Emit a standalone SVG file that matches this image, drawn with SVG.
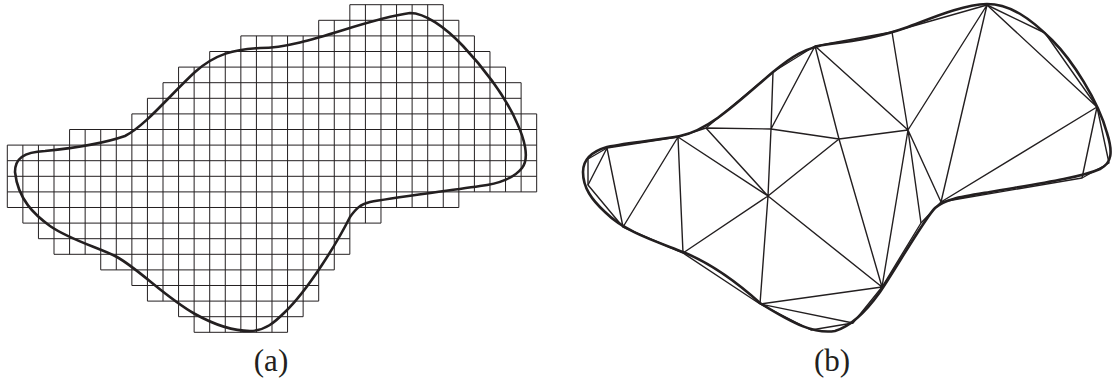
<svg xmlns="http://www.w3.org/2000/svg" width="1115" height="383" viewBox="0 0 1115 383">
  <style>
    .grid { fill: none; stroke: #231f20; stroke-width: 1; }
    .outline { fill: none; stroke: #231f20; stroke-width: 2.6; stroke-linejoin: round; }
    .edge { fill: none; stroke: #231f20; stroke-width: 1.4; stroke-linejoin: round; }
    .label { font-family: "Liberation Serif", serif; font-size: 31px; fill: #231f20; text-anchor: middle; }
  </style>
  <rect width="1115" height="383" fill="#ffffff"/>

  <g id="panel-a">
    <g id="grid-a" transform="translate(7.3,4.7) scale(15.57,15.6)">
      <path class="grid" vector-effect="non-scaling-stroke" d="M22 0H28 M20 1H29 M15 2H30 M13 3H31 M11 4H32 M10 5H33 M9 6H33 M8 7H34 M4 8H34 M0 9H34 M0 10H34 M0 11H34 M0 12H34 M0 13H29 M1 14H24 M2 15H22 M3 16H22 M6 17H21 M8 18H20 M9 19H20 M11 20H19 M12 21H18"/>
      <path class="grid" vector-effect="non-scaling-stroke" d="M0 9V13 M1 9V14 M2 9V15 M3 9V16 M4 8V16 M5 8V16 M6 8V17 M7 8V17 M8 7V18 M9 6V19 M10 5V19 M11 4V20 M12 4V21 M13 3V21 M14 3V21 M15 2V21 M16 2V21 M17 2V21 M18 2V21 M19 2V20 M20 1V19 M21 1V17 M22 0V16 M23 0V14 M24 0V14 M25 0V13 M26 0V13 M27 0V13 M28 0V13 M29 1V13 M30 2V12 M31 3V12 M32 4V12 M33 5V12 M34 7V12"/>
    </g>
    <g id="outline-a">
      <path class="outline" d="M15 172 C15 159 23 152 45 151 C75 148 105 143 125 136 C145 126 170 95 195 72 C215 54 235 49 260 48 C305 48 360 20 410 13 C425 13 445 27 463 46 C481 65 505 95 517 123 C524 138 530 158 522 168 C515 177 500 184 480 186 C440 192 390 198 370 202 C360 204 355 210 350 217 C337 243 308 290 285 312 C275 322 265 331 250 331 C230 331 213 324 195 314 C165 297 140 270 117 257 C100 248 70 240 50 226 C35 215 18 200 15 172 Z"/>
    </g>
    <text id="label-a" class="label" x="271" y="371">(a)</text>
  </g>

  <g id="panel-b">
    <g id="connectors">
      <path class="edge" d="M588 159 L607 148 L678 137 L706 128 L773 72 L815 46 L892 32 L987 5 L1045 33 L1097 107 L1109 163 L1082 178 L941 202 L921 223 L882 287 L853 323 L811 330 L760 304 L683 253 L623 227 L588 185 Z"/>
      <path class="edge" d="M607 148 L588 185 M607 148 L623 227 M678 137 L623 227 M678 137 L683 253 M678 137 L768 196 M706 128 L768 196 M706 128 L771 129 M773 72 L771 129 M815 46 L771 129 M771 129 L768 196 M771 129 L839 139 M815 46 L839 139 M815 46 L908 130 M892 32 L908 130 M987 5 L908 130 M839 139 L908 130 M768 196 L839 139 M768 196 L683 253 M768 196 L760 304 M768 196 L882 287 M839 139 L882 287 M908 130 L882 287 M908 130 L921 223 M908 130 L941 202 M987 5 L941 202 M987 5 L1097 107 M1097 107 L941 202 M1097 107 L1082 178 M760 304 L882 287 M760 304 L853 323"/>
    </g>
    <g id="outline-b">
      <path class="outline" d="M583 172 C583 160 590 152 607 147 C630 142 660 140 680 136 C710 130 740 100 773 72 C790 58 805 47 830 44 C855 41 880 37 905 28 C930 19 960 5 987 4 C1010 4 1030 18 1052 40 C1072 60 1098 100 1107 133 C1113 152 1112 163 1100 169 C1080 178 1030 185 990 192 C960 197 945 199 935 208 C925 218 895 270 880 292 C870 306 855 325 835 331 C815 334 795 325 760 303 C740 285 715 265 683 252 C655 241 625 232 605 212 C592 200 583 188 583 172 Z"/>
    </g>
    <text id="label-b" class="label" x="832" y="371">(b)</text>
  </g>
</svg>
